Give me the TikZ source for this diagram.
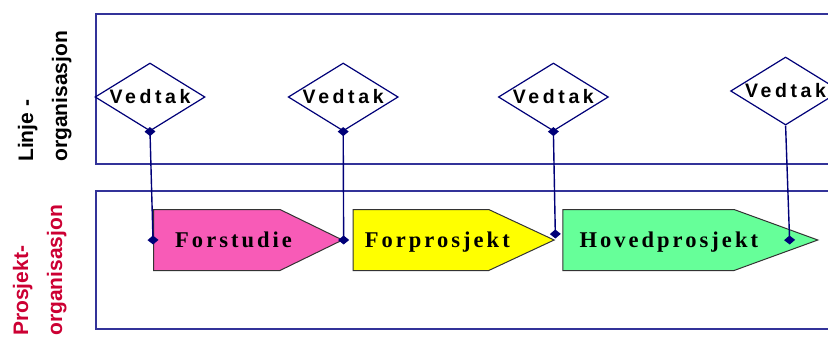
\documentclass[tikz,border=0pt]{standalone}
\usepackage{fontspec}
\setmainfont{Liberation Serif}
\setsansfont{Liberation Sans}
\newfontfamily\vedtakfont{Liberation Sans}[LetterSpace=18.5]
\newfontfamily\phasefont{Liberation Serif}[LetterSpace=13.5]
\usepackage{tikz}
\usetikzlibrary{shapes.geometric, shapes.symbols, positioning, arrows.meta}
\definecolor{laneblue}{RGB}{51,51,153}
\definecolor{navy}{RGB}{0,0,120}
\definecolor{pinkfill}{RGB}{248,91,183}
\definecolor{yellowfill}{RGB}{255,255,0}
\definecolor{greenfill}{RGB}{102,255,153}
\definecolor{crimson}{RGB}{204,0,51}

\begin{document}
\begin{tikzpicture}[x=1pt, y=-1pt,
    lane/.style={draw=laneblue, line width=1.5pt, anchor=north west, minimum width=760pt, inner sep=0},
    vedtak/.style={diamond, draw=navy, fill=white, line width=1.2pt, minimum width=110pt, minimum height=68pt,
      aspect=1.6, inner xsep=-4pt, inner ysep=0pt, font=\vedtakfont\bfseries\fontsize{19.5}{22}\selectfont},
    phase/.style={signal, signal to=east, draw=black!80, line width=1pt, minimum height=61pt, inner sep=0},
    phasetext/.style={inner sep=0, text height=15pt, text depth=0pt, font=\phasefont\bfseries\fontsize{22.5}{26}\selectfont},
    side/.style={rotate=90, anchor=north west, align=left, inner sep=0, font=\sffamily\bfseries\fontsize{21}{34}\selectfont},
    link/.style={draw=navy, line width=1.4pt, shorten >=-4.5pt},
    linkboth/.style={link, shorten <=-4.5pt, {Diamond[length=9pt,width=11pt]}-{Diamond[length=9pt,width=11pt]}},
    linkend/.style={link, -{Diamond[length=9pt,width=11pt]}}]
  \useasboundingbox (0,0) rectangle (828,338);
  \clip (0,0) rectangle (828,338);

  % lanes
  \node[lane, minimum height=150pt] (linje) at (95,13) {};
  \node[lane, minimum height=138pt] (prosjekt) at (95,190) {};
  \node[side] (linje label) at (17.7,162) {Linje -\\organisasjon};
  \node[side, text=crimson] (prosjekt label) at (12.7,336) {Prosjekt-\\organisasjon};

  % decisions
  \node[vedtak] (d1) at (150,97) {Vedtak};
  \node[vedtak, right=82pt of d1] (d2) {Vedtak};
  \node[vedtak, right=99pt of d2] (d3) {Vedtak};
  \node[vedtak, right=121pt of d3, yshift=6pt] (d4) {Vedtak};

  % phases
  \node[phase, fill=pinkfill, minimum width=189pt, signal pointer angle=52, anchor=west] (f1) at (153,240) {};
  \node[phase, fill=yellowfill, minimum width=201pt, signal pointer angle=50, right=9pt of f1] (f2) {};
  \node[phase, fill=greenfill, minimum width=255pt, signal pointer angle=40, right=7pt of f2] (f3) {};
  \node[phasetext, right=22pt of f1.west] (t1) {Forstudie};
  \node[phasetext, right=12pt of f2.west] (t2) {Forprosjekt};
  \node[phasetext, right=17pt of f3.west] (t3) {Hovedprosjekt};

  \draw[linkboth] (d1.south) -- (f1.west);
  \draw[linkboth] (d2.south) -- (f1.east);
  \draw[linkboth] (d3.south) -- ([yshift=6pt]f2.east);
  \draw[linkend] (d4.south) -- ([xshift=4pt]d4.south |- f3.east);
\end{tikzpicture}
\end{document}
